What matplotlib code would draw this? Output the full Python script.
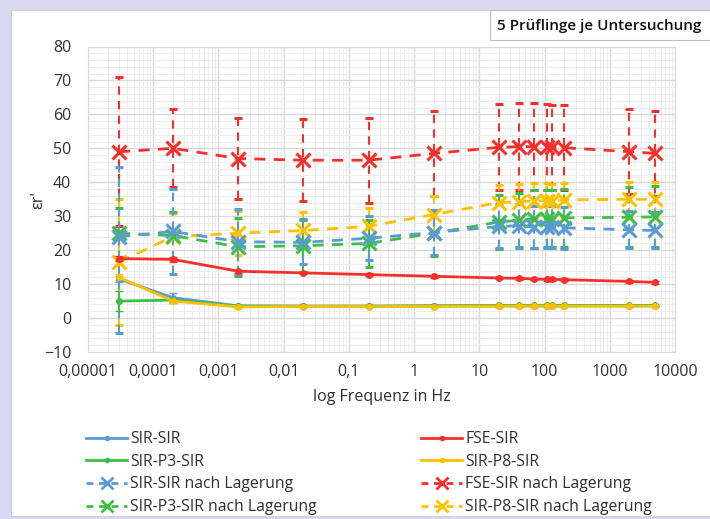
import numpy as np
import matplotlib.pyplot as plt
from matplotlib.patches import Rectangle
from matplotlib.lines import Line2D
from matplotlib.ticker import FixedLocator, MultipleLocator, NullFormatter, LogLocator

plt.rcParams['font.family'] = ['Open Sans', 'DejaVu Sans']

# --- data ---
freq = [3e-5, 2e-4, 2e-3, 2e-2, 0.2, 2, 20, 40, 70, 110, 130, 200, 2000, 5000]

sir_sir = [11.5, 6.0, 3.6, 3.5, 3.5, 3.6, 3.6, 3.6, 3.6, 3.6, 3.6, 3.6, 3.6, 3.6]
sir_sir_err = [1.0, 1.5, 0.3, 0.2, 0.2, 0.2, 0.2, 0.2, 0.2, 0.2, 0.2, 0.2, 0.2, 0.2]
fse_sir = [17.5, 17.3, 13.8, 13.3, 12.8, 12.3, 11.8, 11.7, 11.5, 11.4, 11.4, 11.3, 10.8, 10.5]
fse_sir_err = [0.8, 0.8, 0.5, 0.4, 0.4, 0.4, 0.4, 0.4, 0.4, 0.4, 0.4, 0.4, 0.4, 0.4]
p3_sir = [5.0, 5.3, 3.5, 3.5, 3.5, 3.6, 3.7, 3.7, 3.7, 3.7, 3.7, 3.7, 3.7, 3.7]
p3_sir_err = [3.0, 0.5, 0.2, 0.2, 0.2, 0.2, 0.2, 0.2, 0.2, 0.2, 0.2, 0.2, 0.2, 0.2]
p8_sir = [12.0, 5.0, 3.3, 3.4, 3.4, 3.4, 3.5, 3.5, 3.5, 3.5, 3.5, 3.5, 3.5, 3.5]
p8_sir_err = [1.0, 0.5, 0.2, 0.2, 0.2, 0.2, 0.2, 0.2, 0.2, 0.2, 0.2, 0.2, 0.2, 0.2]

sir_sir_l = [24.0, 25.5, 22.5, 22.3, 23.5, 25.2, 27.0, 27.2, 26.8, 26.8, 26.8, 26.6, 26.0, 25.8]
sir_sir_l_lo = [28.5, 12.5, 9.5, 6.5, 6.5, 6.5, 6.5, 6.5, 6.3, 6.3, 6.3, 6.2, 5.5, 5.3]
sir_sir_l_hi = [20.5, 12.5, 9.5, 6.5, 6.5, 6.5, 6.5, 6.5, 6.3, 6.3, 6.3, 6.2, 5.5, 5.3]
fse_sir_l = [49.0, 50.0, 47.0, 46.5, 46.5, 48.5, 50.3, 50.5, 50.5, 50.4, 50.3, 50.2, 49.0, 48.5]
fse_sir_l_err = [22.0, 11.5, 12.0, 12.0, 12.5, 12.5, 12.7, 12.8, 12.8, 12.8, 12.5, 12.5, 12.5, 12.5]
p3_sir_l = [25.0, 24.3, 21.0, 21.3, 22.0, 25.0, 28.3, 28.8, 29.2, 29.3, 29.3, 29.5, 29.7, 29.8]
p3_sir_l_err = [7.5, 7.0, 8.5, 7.8, 7.0, 6.6, 8.0, 8.0, 8.5, 8.5, 8.5, 8.5, 8.8, 9.0]
p8_sir_l = [16.5, 24.0, 25.0, 25.8, 27.0, 30.5, 34.0, 34.3, 34.5, 34.6, 34.6, 34.8, 35.0, 35.0]
p8_sir_l_err = [18.5, 7.0, 6.5, 5.5, 5.5, 5.5, 5.2, 5.3, 5.2, 5.2, 5.0, 5.0, 5.0, 5.0]

x_ticks = [1e-5, 1e-4, 1e-3, 1e-2, 1e-1, 1, 10, 100, 1000, 10000]
x_ticklabels = ['0,00001', '0,0001', '0,001', '0,01', '0,1', '1', '10', '100', '1000', '10000']

BLUE = '#5B9BD5'
RED = '#F5302A'
GREEN = '#3DBE45'
YELLOW = '#FFC000'
TXT = '#303030'

fig = plt.figure(figsize=(7.10, 5.19), dpi=100, facecolor='#D9D8EE')
# white panel
fig.patches.append(Rectangle((11 / 710, 3 / 519), 1.0, 1 - 13 / 519,
                             transform=fig.transFigure, facecolor='white',
                             edgecolor='#d0d0d0', lw=0.8, zorder=-2))
# text box top right
fig.patches.append(Rectangle((490 / 710, 1 - 40 / 519), 0.4, 30 / 519,
                             transform=fig.transFigure, facecolor='white',
                             edgecolor='#bfbfbf', lw=0.8, zorder=-1))
fig.text(497 / 710, 1 - 26 / 519, '5 Prüflinge je Untersuchung', fontsize=11,
         fontweight='semibold', va='center', ha='left', color='#111111')

ax = fig.add_axes([88 / 710, 1 - 352 / 519, (675 - 88) / 710, (352 - 46.5) / 519])
ax.set_facecolor('none')
ax.set_zorder(2)


def solid(y, err, color):
    ax.errorbar(freq, y, yerr=err, color=color, lw=2, marker='o', ms=4,
                capsize=3, elinewidth=1.5, zorder=4)


def dashed(y, err, color):
    eb = ax.errorbar(freq, y, yerr=err, color=color, lw=2, ls=(0, (4, 3)),
                     marker='x', ms=10, mew=2.2, capsize=3, elinewidth=1.5, zorder=3)
    eb[2][0].set_linestyle((0, (4, 3)))


dashed(fse_sir_l, fse_sir_l_err, RED)
dashed(p8_sir_l, p8_sir_l_err, YELLOW)
dashed(p3_sir_l, p3_sir_l_err, GREEN)
dashed(sir_sir_l, [sir_sir_l_lo, sir_sir_l_hi], BLUE)
solid(fse_sir, fse_sir_err, RED)
solid(sir_sir, sir_sir_err, BLUE)
solid(p3_sir, p3_sir_err, GREEN)
solid(p8_sir, p8_sir_err, YELLOW)

ax.set_xscale('log')
ax.set_xlim(1e-5, 1e4)
ax.set_ylim(-10, 80)
ax.xaxis.set_major_locator(FixedLocator(x_ticks))
ax.set_xticklabels(x_ticklabels)
ax.xaxis.set_minor_locator(LogLocator(base=10, subs=np.arange(2, 10), numticks=100))
ax.xaxis.set_minor_formatter(NullFormatter())
ax.yaxis.set_major_locator(MultipleLocator(10))
ax.yaxis.set_minor_locator(MultipleLocator(2))
ax.grid(True, which='major', color='#d9d9d9', lw=1.0, zorder=0)
ax.grid(True, which='minor', color='#ededed', lw=0.7, zorder=0)
ax.set_axisbelow(True)
ax.tick_params(which='both', length=0, labelsize=11.5, colors=TXT)
ax.tick_params(axis='x', pad=9)
ax.tick_params(axis='y', pad=12)
for s in ax.spines.values():
    s.set_color('#d9d9d9')

ax.set_xlabel('log Frequenz in Hz', fontsize=11.5, color=TXT, labelpad=6)
fig.text(38 / 710, 1 - 200 / 519, "εr'", rotation=90, fontsize=11.5,
         color=TXT, ha='center', va='center')


# --- legend, two columns ---
def h_solid(c):
    return Line2D([], [], color=c, lw=2, marker='o', ms=3)


def h_dash(c):
    return Line2D([], [], color=c, lw=2, ls=(0, (2.5, 2)), marker='x', ms=8, mew=2)


left_h = [h_solid(BLUE), h_solid(GREEN), h_dash(BLUE), h_dash(GREEN)]
left_l = ['SIR-SIR', 'SIR-P3-SIR', 'SIR-SIR nach Lagerung', 'SIR-P3-SIR nach Lagerung']
right_h = [h_solid(RED), h_solid(YELLOW), h_dash(RED), h_dash(YELLOW)]
right_l = ['FSE-SIR', 'SIR-P8-SIR', 'FSE-SIR nach Lagerung', 'SIR-P8-SIR nach Lagerung']

for hs, ls, x0 in [(left_h, left_l, 80 / 710), (right_h, right_l, 415 / 710)]:
    fig.legend(hs, ls, loc='upper left', bbox_to_anchor=(x0, 1 - 425 / 519),
               frameon=False, fontsize=11.3, handlelength=2.6, handletextpad=0.2,
               labelspacing=0.42, borderaxespad=0, labelcolor=TXT)

fig.savefig('out.png', dpi=100, facecolor=fig.get_facecolor())
